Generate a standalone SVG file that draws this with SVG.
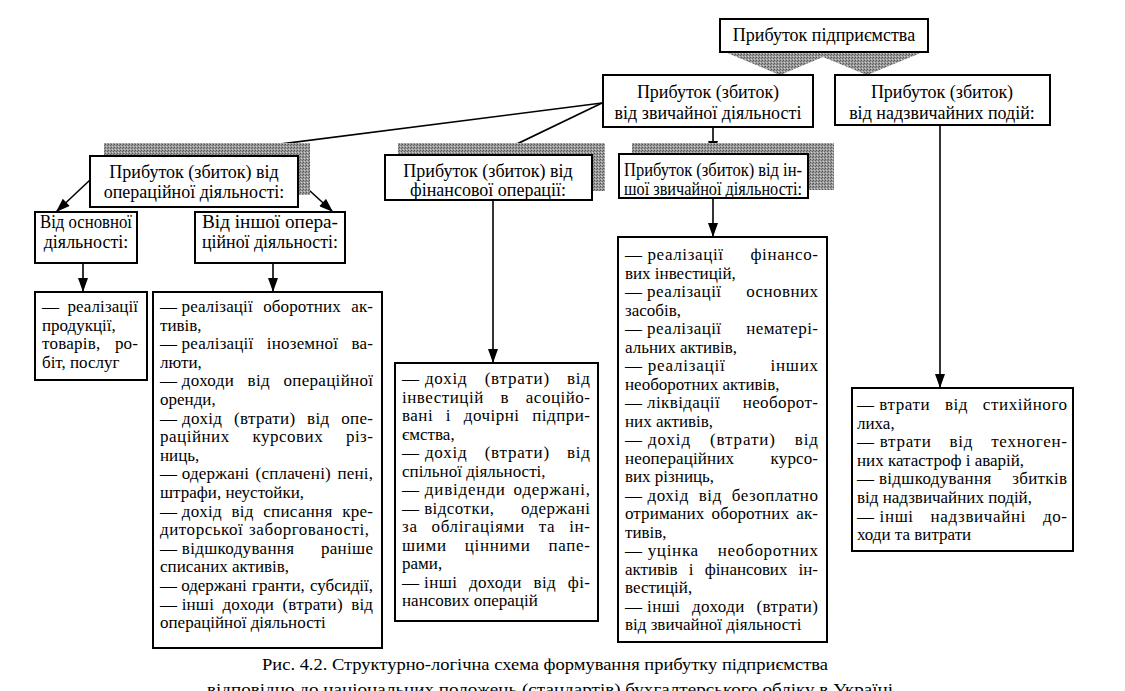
<svg xmlns="http://www.w3.org/2000/svg" width="1125" height="691" viewBox="0 0 1125 691">
<defs>
<pattern id="dither" width="3" height="3" patternUnits="userSpaceOnUse">
<rect width="3" height="3" fill="#9a9a9a"/>
<rect x="0" y="0" width="1" height="1" fill="#555"/>
<rect x="2" y="1" width="1" height="1" fill="#666"/>
<rect x="1" y="2" width="1" height="1" fill="#d0d0d0"/>
</pattern>
<marker id="ah" markerWidth="15" markerHeight="10" refX="14" refY="5" viewBox="0 0 14 10" orient="auto" markerUnits="userSpaceOnUse">
<path d="M0,0 L14,5 L0,10 Z" fill="#000"/>
</marker>
</defs>
<style>
.box{fill:#fff;stroke:#000;stroke-width:2}
.sh{fill:url(#dither)}
.h{font-family:"Liberation Serif","Times New Roman",serif;font-size:18px;fill:#000;text-anchor:middle}
.t{font-family:"Liberation Serif","Times New Roman",serif;font-size:17px;fill:#000}
.cap{font-family:"Liberation Serif","Times New Roman",serif;font-size:17px;fill:#000}
.ca{stroke:#000;stroke-width:1.6;fill:none;marker-end:url(#ah)}
</style>
<rect width="1125" height="691" fill="#fff"/>

<g id="connectors">
<line class="ca" x1="602" y1="103" x2="210" y2="153"/>
<line class="ca" x1="602" y1="103" x2="494" y2="155"/>
<line class="ca" x1="713" y1="127" x2="713" y2="155"/>
<line class="ca" x1="940" y1="125" x2="940" y2="388"/>
<line class="ca" x1="90" y1="180" x2="56" y2="212"/>
<line class="ca" x1="298" y1="180" x2="333" y2="212"/>
<line class="ca" x1="83" y1="263" x2="83" y2="292"/>
<line class="ca" x1="273" y1="263" x2="273" y2="292"/>
<line class="ca" x1="493" y1="200" x2="493" y2="363"/>
<line class="ca" x1="713" y1="198" x2="713" y2="237"/>
</g>

<g id="n-top">
<polygon class="sh" points="720,50 780,75 823,57 867,75 928,50"/>
<rect class="box" x="720" y="19" width="208" height="33"/>
<text class="h" x="824" y="41">Прибуток підприємства</text>
</g>

<g id="n-ordinary">
<rect class="box" x="603" y="75" width="210" height="52"/>
<text class="h" x="708" y="98">Прибуток (збиток)</text>
<text class="h" x="708" y="119">від звичайної діяльності</text>
</g>

<g id="n-extra">
<rect class="box" x="835" y="75" width="215" height="50"/>
<text class="h" x="942" y="98">Прибуток (збиток)</text>
<text class="h" x="942" y="119">від надзвичайних подій:</text>
</g>

<g id="n-oper">
<rect class="sh" x="104" y="143" width="206" height="52"/>
<rect class="box" x="90" y="156" width="208" height="51"/>
<text class="h" x="194" y="178">Прибуток (збиток) від</text>
<text class="h" x="194" y="198">операційної діяльності:</text>
</g>

<g id="n-fin">
<rect class="sh" x="398" y="143" width="207" height="48"/>
<rect class="box" x="385" y="155" width="207" height="45"/>
<text class="h" x="488" y="177">Прибуток (збиток) від</text>
<text class="h" x="488" y="196">фінансової операції:</text>
</g>

<g id="n-other">
<rect class="sh" x="632" y="143" width="202" height="47"/>
<rect class="box" x="619" y="154" width="189" height="44"/>
<text class="h" x="713" y="176" textLength="178" lengthAdjust="spacingAndGlyphs">Прибуток (збиток) від ін-</text>
<text class="h" x="713" y="195" textLength="178" lengthAdjust="spacingAndGlyphs">шої звичайної діяльності:</text>
</g>

<g id="n-main">
<rect class="box" x="35" y="212" width="102" height="51"/>
<text class="h" x="86" y="228" textLength="92" lengthAdjust="spacingAndGlyphs">Від основної</text>
<text class="h" x="86" y="248">діяльності:</text>
</g>

<g id="n-otherop">
<rect class="box" x="195" y="212" width="150" height="51"/>
<text class="h" x="270" y="228" textLength="136" lengthAdjust="spacingAndGlyphs">Від іншої опера-</text>
<text class="h" x="270" y="248" textLength="136" lengthAdjust="spacingAndGlyphs">ційної діяльності:</text>
</g>

<g id="n-list-main">
<rect class="box" x="35" y="292" width="112" height="88"/>
<text class="t" x="42" y="312" word-spacing="4" textLength="96" lengthAdjust="spacing">— реалізації</text>
<text class="t" x="42" y="330.6">продукції,</text>
<text class="t" x="42" y="349.2" word-spacing="10" textLength="96" lengthAdjust="spacing">товарів, ро-</text>
<text class="t" x="42" y="367.8">біт, послуг</text>
</g>

<g id="n-list-otherop">
<rect class="box" x="153" y="292" width="229" height="356"/>
<text class="t" x="160" y="312" word-spacing="6" textLength="213" lengthAdjust="spacing">—&#x2005;реалізації оборотних ак-</text>
<text class="t" x="160" y="330.6">тивів,</text>
<text class="t" x="160" y="349.2" word-spacing="9" textLength="213" lengthAdjust="spacing">—&#x2005;реалізації іноземної ва-</text>
<text class="t" x="160" y="367.8">люти,</text>
<text class="t" x="160" y="386.4" word-spacing="9" textLength="213" lengthAdjust="spacing">—&#x2005;доходи від операційної</text>
<text class="t" x="160" y="405">оренди,</text>
<text class="t" x="160" y="423.6" word-spacing="7" textLength="213" lengthAdjust="spacing">—&#x2005;дохід (втрати) від опе-</text>
<text class="t" x="160" y="442.2" word-spacing="18" textLength="213" lengthAdjust="spacing">раційних курсових різ-</text>
<text class="t" x="160" y="460.8">ниць,</text>
<text class="t" x="160" y="479.4" word-spacing="2" textLength="213" lengthAdjust="spacing">—&#x2005;одержані (сплачені) пені,</text>
<text class="t" x="160" y="498">штрафи, неустойки,</text>
<text class="t" x="160" y="516.6" word-spacing="5" textLength="213" lengthAdjust="spacing">—&#x2005;дохід від списання кре-</text>
<text class="t" x="160" y="535.2" word-spacing="1" textLength="209" lengthAdjust="spacing">диторської заборгованості,</text>
<text class="t" x="160" y="553.8" word-spacing="22" textLength="213" lengthAdjust="spacing">—&#x2005;відшкодування раніше</text>
<text class="t" x="160" y="572.4">списаних активів,</text>
<text class="t" x="160" y="591" word-spacing="1" textLength="213" lengthAdjust="spacing">—&#x2005;одержані гранти, субсидії,</text>
<text class="t" x="160" y="609.6" word-spacing="4" textLength="213" lengthAdjust="spacing">—&#x2005;інші доходи (втрати) від</text>
<text class="t" x="160" y="628.2">операційної діяльності</text>
</g>

<g id="n-list-fin">
<rect class="box" x="395" y="363" width="203" height="258"/>
<text class="t" x="402" y="384" word-spacing="12" textLength="188" lengthAdjust="spacing">—&#x2005;дохід (втрати) від</text>
<text class="t" x="402" y="402.5" word-spacing="12" textLength="188" lengthAdjust="spacing">інвестицій в асоційо-</text>
<text class="t" x="402" y="421" word-spacing="8" textLength="188" lengthAdjust="spacing">вані і дочірні підпри-</text>
<text class="t" x="402" y="439.5">ємства,</text>
<text class="t" x="402" y="458" word-spacing="12" textLength="188" lengthAdjust="spacing">—&#x2005;дохід (втрати) від</text>
<text class="t" x="402" y="476.5">спільної діяльності,</text>
<text class="t" x="402" y="495" word-spacing="3" textLength="188" lengthAdjust="spacing">—&#x2005;дивіденди одержані,</text>
<text class="t" x="402" y="513.5" word-spacing="22" textLength="188" lengthAdjust="spacing">—&#x2005;відсотки, одержані</text>
<text class="t" x="402" y="532" word-spacing="9" textLength="188" lengthAdjust="spacing">за облігаціями та ін-</text>
<text class="t" x="402" y="550.5" word-spacing="13" textLength="188" lengthAdjust="spacing">шими цінними папе-</text>
<text class="t" x="402" y="569">рами,</text>
<text class="t" x="402" y="587.5" word-spacing="7" textLength="188" lengthAdjust="spacing">—&#x2005;інші доходи від фі-</text>
<text class="t" x="402" y="606">нансових операцій</text>
</g>

<g id="n-list-other">
<rect class="box" x="618" y="237" width="209" height="405"/>
<text class="t" x="625" y="260" word-spacing="22" textLength="193" lengthAdjust="spacing">—&#x2005;реалізації фінансо-</text>
<text class="t" x="625" y="278.5">вих інвестицій,</text>
<text class="t" x="625" y="297" word-spacing="20" textLength="193" lengthAdjust="spacing">—&#x2005;реалізації основних</text>
<text class="t" x="625" y="315.5">засобів,</text>
<text class="t" x="625" y="334" word-spacing="20" textLength="193" lengthAdjust="spacing">—&#x2005;реалізації нематері-</text>
<text class="t" x="625" y="352.5">альних активів,</text>
<text class="t" x="625" y="371" word-spacing="40" textLength="193" lengthAdjust="spacing">—&#x2005;реалізації інших</text>
<text class="t" x="625" y="389.5">необоротних активів,</text>
<text class="t" x="625" y="408" word-spacing="18" textLength="193" lengthAdjust="spacing">—&#x2005;ліквідації необорот-</text>
<text class="t" x="625" y="426.5">них активів,</text>
<text class="t" x="625" y="445" word-spacing="14" textLength="193" lengthAdjust="spacing">—&#x2005;дохід (втрати) від</text>
<text class="t" x="625" y="463.5" word-spacing="32" textLength="193" lengthAdjust="spacing">неопераційних курсо-</text>
<text class="t" x="625" y="482">вих різниць,</text>
<text class="t" x="625" y="500.5" word-spacing="5" textLength="193" lengthAdjust="spacing">—&#x2005;дохід від безоплатно</text>
<text class="t" x="625" y="519" word-spacing="3" textLength="193" lengthAdjust="spacing">отриманих оборотних ак-</text>
<text class="t" x="625" y="537.5">тивів,</text>
<text class="t" x="625" y="556" word-spacing="14" textLength="193" lengthAdjust="spacing">—&#x2005;уцінка необоротних</text>
<text class="t" x="625" y="574.5" word-spacing="7" textLength="193" lengthAdjust="spacing">активів і фінансових ін-</text>
<text class="t" x="625" y="593">вестицій,</text>
<text class="t" x="625" y="611.5" word-spacing="7" textLength="193" lengthAdjust="spacing">—&#x2005;інші доходи (втрати)</text>
<text class="t" x="625" y="630">від звичайної діяльності</text>
</g>

<g id="n-list-extra">
<rect class="box" x="852" y="388" width="221" height="163"/>
<text class="t" x="857" y="410" word-spacing="10" textLength="210" lengthAdjust="spacing">—&#x2005;втрати від стихійного</text>
<text class="t" x="857" y="428.6">лиха,</text>
<text class="t" x="857" y="447.2" word-spacing="13" textLength="210" lengthAdjust="spacing">—&#x2005;втрати від техноген-</text>
<text class="t" x="857" y="465.8">них катастроф і аварій,</text>
<text class="t" x="857" y="484.4" word-spacing="16" textLength="210" lengthAdjust="spacing">—&#x2005;відшкодування збитків</text>
<text class="t" x="857" y="503">від надзвичайних подій,</text>
<text class="t" x="857" y="521.6" word-spacing="12" textLength="210" lengthAdjust="spacing">—&#x2005;інші надзвичайні до-</text>
<text class="t" x="857" y="540.2">ходи та витрати</text>
</g>

<g id="caption">
<text class="cap" x="262" y="670" textLength="566" lengthAdjust="spacingAndGlyphs">Рис. 4.2. Структурно-логічна схема формування прибутку підприємства</text>
<text class="cap" x="207" y="695" textLength="686" lengthAdjust="spacingAndGlyphs">відповідно до національних положень (стандартів) бухгалтерського обліку в Україні</text>
</g>
</svg>
